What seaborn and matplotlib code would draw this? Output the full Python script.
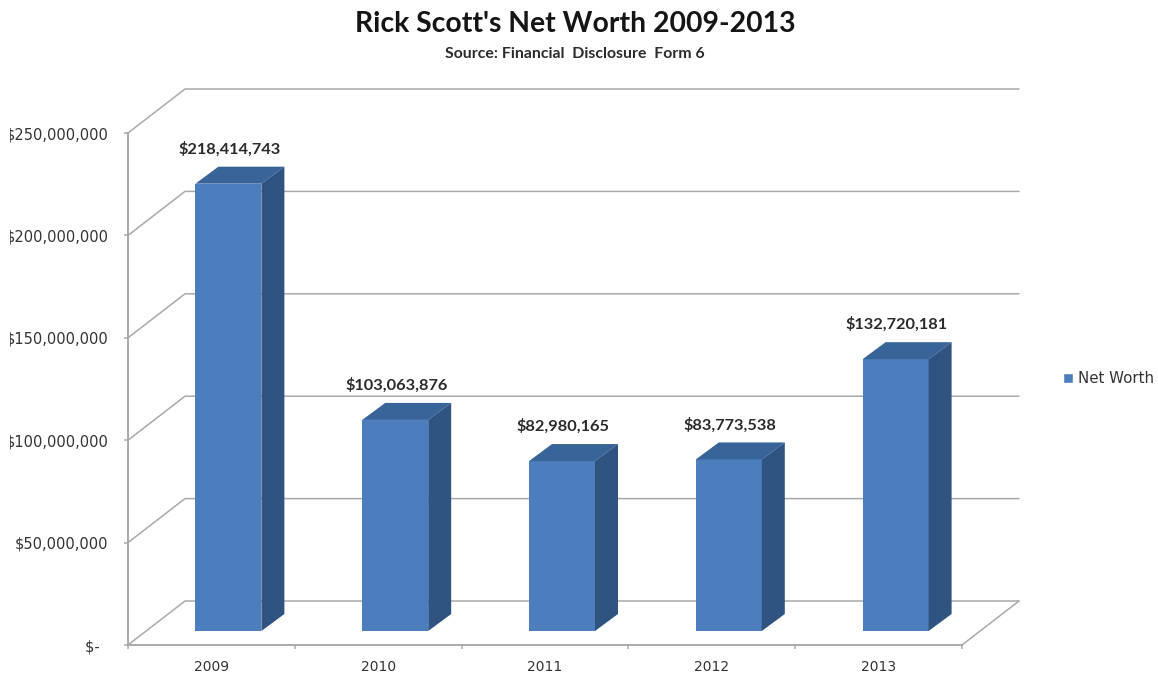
import matplotlib
matplotlib.use("Agg")
import matplotlib.pyplot as plt
from matplotlib.patches import Patch, Polygon
from matplotlib.ticker import FixedFormatter, FixedLocator
from matplotlib.transforms import Bbox
import pandas as pd
import seaborn as sns

# Figures from the annual Form 6 disclosures
years = ["2009", "2010", "2011", "2012", "2013"]
net_worth = [218414743, 103063876, 82980165, 83773538, 132720181]
y_ticks = [0, 50000000, 100000000, 150000000, 200000000, 250000000]
y_tick_labels = ["$-  ", "$50,000,000", "$100,000,000", "$150,000,000",
                 "$200,000,000", "$250,000,000"]
series_name = "Net Worth"
chart_title = "Rick Scott's Net Worth 2009-2013"
chart_source = "Source: Financial  Disclosure  Form 6"

W, H = 1158, 677
PX_X = 834 / 5          # pixels per category
PX_Y = 512 / 250e6      # pixels per dollar

# Pseudo-3D offsets, expressed in data units
WALL_DX, WALL_DY = 57 / PX_X, 44 / PX_Y
BAR_DX, BAR_DY = 17 / PX_X, 14 / PX_Y
DEPTH_DX, DEPTH_DY = 23 / PX_X, 17 / PX_Y

FRONT = "#4c7ebd"
TOP = "#38649a"
SIDE = "#2f5482"
GRID = "#a9a9a9"
TEXT = "#2b2b2b"
TICK_TEXT = "#333333"

sns.set_theme(style="white")
plt.rcParams["font.family"] = ["DejaVu Sans"]

fig = plt.figure(figsize=(W / 100, H / 100), dpi=100, facecolor="white")
ax = fig.add_axes([128 / W, 1 - 645 / H, 834 / W, 512 / H])

frame = pd.DataFrame({"year": years, "net_worth": net_worth})
sns.barplot(data=frame, x="year", y="net_worth", color=FRONT, saturation=1,
            width=66 / PX_X, ax=ax, zorder=3, edgecolor="none", linewidth=0)
ax.set_xlim(-0.5, 4.5)
ax.set_ylim(0, 250e6)
ax.set_xlabel("")
ax.set_ylabel("")

# Back wall and its diagonals
for tick in y_ticks:
    ax.plot([-0.5, -0.5 + WALL_DX, 4.5 + WALL_DX],
            [tick, tick + WALL_DY, tick + WALL_DY],
            color=GRID, lw=1.1, clip_on=False, zorder=1)
ax.plot([4.5, 4.5 + WALL_DX], [0, WALL_DY], color=GRID, lw=1.1,
        clip_on=False, zorder=1)

# Lift the bars onto the floor and add their top and side faces
for bar, value in zip(ax.patches, net_worth):
    bar.set_x(bar.get_x() + BAR_DX)
    bar.set_y(BAR_DY)
    bar.set_clip_on(False)
    x0, x1 = bar.get_x(), bar.get_x() + bar.get_width()
    top = BAR_DY + value
    ax.add_patch(Polygon([(x0, top), (x1, top),
                          (x1 + DEPTH_DX, top + DEPTH_DY),
                          (x0 + DEPTH_DX, top + DEPTH_DY)],
                         facecolor=TOP, edgecolor="none", clip_on=False, zorder=3))
    ax.add_patch(Polygon([(x1, BAR_DY), (x1, top),
                          (x1 + DEPTH_DX, top + DEPTH_DY),
                          (x1 + DEPTH_DX, BAR_DY + DEPTH_DY)],
                         facecolor=SIDE, edgecolor="none", clip_on=False, zorder=3))
    ax.text((x0 + x1) / 2 + 1 / PX_X, top + DEPTH_DY + 17.5 / PX_Y,
            f"${value:,.0f}", ha="center", va="center", fontsize=11.8,
            fontweight="bold", color=TEXT, family=["Lato", "DejaVu Sans"],
            clip_on=False)

# Axes lines and ticks
sns.despine(ax=ax, top=True, right=True)
for side in ("left", "bottom"):
    ax.spines[side].set_color(GRID)
    ax.spines[side].set_linewidth(1.4)

ax.yaxis.set_major_locator(FixedLocator(y_ticks))
ax.yaxis.set_major_formatter(FixedFormatter(y_tick_labels))
ax.tick_params(axis="y", which="major", left=True, length=3, width=1.1, color=GRID,
               pad=11, labelsize=10.5, labelcolor=TICK_TEXT)
ax.xaxis.set_minor_locator(FixedLocator([-0.5, 0.5, 1.5, 2.5, 3.5, 4.5]))
ax.tick_params(axis="x", which="major", bottom=False, length=0, pad=11,
               labelsize=10, labelcolor=TICK_TEXT)
ax.tick_params(axis="x", which="minor", bottom=True, length=3, width=1.1, color=GRID)

# The tallest tick labels run off the left edge of the chart area
fig.canvas.draw()
left_edge = Bbox.from_extents(10, 0, W, H)
for label in ax.get_yticklabels():
    label.set_clip_on(True)
    label.set_clip_box(left_edge)

ax.legend(handles=[Patch(facecolor=FRONT, label=series_name)],
          loc="center left", bbox_to_anchor=(1063 / W, 1 - 378.5 / H),
          bbox_transform=fig.transFigure, frameon=False, fontsize=10.8,
          handlelength=0.68, handleheight=0.68, handletextpad=0.3,
          borderpad=0, borderaxespad=0, labelcolor=TICK_TEXT)

fig.text(575 / W, 1 - 24.5 / H, chart_title, ha="center", va="center",
         fontsize=20.4, fontweight="bold", color="#151515",
         family=["Lato", "DejaVu Sans"])
fig.text(575 / W, 1 - 53.5 / H, chart_source, ha="center", va="center",
         fontsize=11.4, fontweight="bold", color=TEXT,
         family=["Lato", "DejaVu Sans"])

fig.savefig("out.png", dpi=100, facecolor="white")
